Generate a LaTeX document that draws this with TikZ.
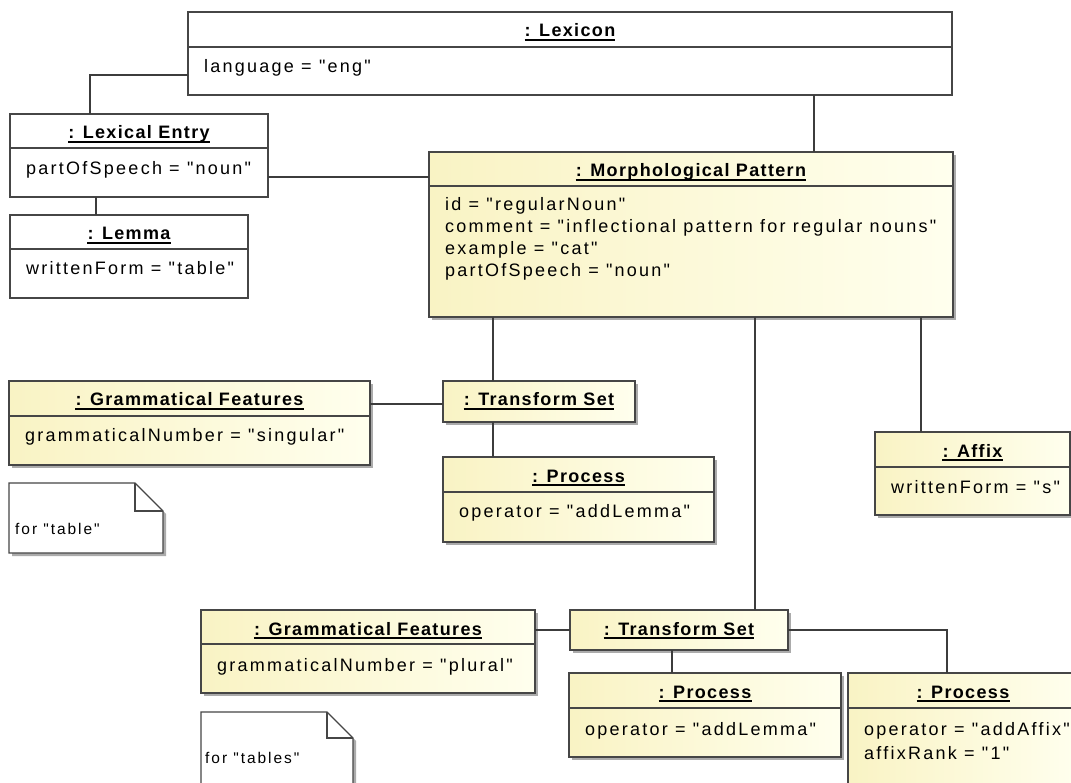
\documentclass[tikz,border=0pt]{standalone}
\usepackage{fontspec}
\setmainfont{Liberation Sans}[Ligatures=TeXOff,LetterSpace=12.5,BoldFeatures={LetterSpace=7.5}]
\usetikzlibrary{shadows,calc}

\definecolor{edgegray}{RGB}{70,70,70}
\definecolor{wiregray}{RGB}{60,60,60}
\definecolor{ylwL}{RGB}{249,243,196}
\definecolor{ylwR}{RGB}{255,255,238}
\definecolor{shadegray}{RGB}{150,150,150}

\newcommand\bodysize{\fontsize{18}{22}\selectfont}

\tikzset{
  objbox/.style={draw=edgegray, line width=1.4pt, inner sep=0pt, outer sep=0pt, anchor=north west},
  plainobj/.style={objbox, fill=white},
  yellowobj/.style={objbox, left color=ylwL, right color=ylwR,
    drop shadow={shadow xshift=3pt, shadow yshift=-3pt, fill=shadegray, opacity=0.8}},
  notepath/.style={draw=edgegray, line width=1.4pt, fill=white, line join=miter},
  ttl/.style={anchor=base, inner sep=0pt, font=\bodysize\bfseries},
  attr/.style={anchor=base west, inner sep=0pt, xshift=16pt, font=\bodysize},
  notetext/.style={anchor=base west, inner sep=0pt, font=\fontsize{15.5}{18}\selectfont},
  divline/.style={draw=edgegray, line width=1.2pt},
  uline/.style={draw=black, line width=1.1pt},
  wire/.style={draw=wiregray, line width=1.2pt},
}

% object box with a name compartment and an attribute compartment
% #1 name, #2 style, #3 x1, #4 y1, #5 x2, #6 y2, #7 divider y, #8 title
\newcommand\objbox[8]{%
  \node[#2, minimum width=#5pt-#3pt, minimum height=#6pt-#4pt] (#1) at (#3,#4) {};
  \draw[divline] (#1.west |- 0,#7) -- (#1.east |- 0,#7);
  \node[ttl] (#1-title) at ([yshift=-25pt]#1.north) {#8};
  \draw[uline] ([yshift=-3pt]#1-title.base west) -- ([yshift=-3pt]#1-title.base east);
}
% object box with a name compartment only
% #1 name, #2 style, #3 x1, #4 y1, #5 x2, #6 y2, #7 title
\newcommand\namebox[7]{%
  \node[#2, minimum width=#5pt-#3pt, minimum height=#6pt-#4pt] (#1) at (#3,#4) {};
  \node[ttl] (#1-title) at ([yshift=-25pt]#1.north) {#7};
  \draw[uline] ([yshift=-3pt]#1-title.base west) -- ([yshift=-3pt]#1-title.base east);
}
% attribute line: #1 node name, #2 box, #3 baseline y, #4 text
\newcommand\attr[4]{\node[attr] (#1) at (#2.west |- 0,#3) {#4};}
% note with a folded corner: #1 x1, #2 y1, #3 x2, #4 y2, #5 fold
\newcommand\notebox[5]{%
  \fill[shadegray, opacity=0.8] (#1+3,#2+3) -- (#3-#5+3,#2+3) -- (#3+3,#2+#5+3) -- (#3+3,#4+3) -- (#1+3,#4+3) -- cycle;
  \draw[notepath] (#1,#2) -- (#3-#5,#2) -- (#3,#2+#5) -- (#3,#4) -- (#1,#4) -- cycle;
  \draw[notepath, fill=none] (#3-#5,#2) -- (#3-#5,#2+#5) -- (#3,#2+#5);
}

\begin{document}
\begin{tikzpicture}[x=1pt, y=-1pt, font=\bodysize]
\useasboundingbox (0,0) rectangle (1071,783);
\clip (0,0) rectangle (1071,783);
\fill[white] (0,0) rectangle (1071,783);

% white objects
\objbox{lexicon}{plainobj}{188}{12}{952}{95}{47}{: Lexicon}
\attr{lexicon-lang}{lexicon}{73}{language = "eng"}

\objbox{entry}{plainobj}{10}{114}{268}{197}{148}{: Lexical Entry}
\attr{entry-pos}{entry}{175}{partOfSpeech = "noun"}

\objbox{lemma}{plainobj}{10}{215}{248}{298}{249}{: Lemma}
\attr{lemma-wf}{lemma}{275}{writtenForm = "table"}

% morphological pattern
\objbox{morph}{yellowobj}{429}{152}{953}{317}{186}{: Morphological Pattern}
\attr{morph-id}{morph}{211}{id = "regularNoun"}
\attr{morph-comment}{morph}{233}{comment = "inflectional pattern for regular nouns"}
\attr{morph-ex}{morph}{255}{example = "cat"}
\attr{morph-pos}{morph}{277}{partOfSpeech = "noun"}

% singular branch
\objbox{gfsg}{yellowobj}{9}{381}{370}{465}{416}{: Grammatical Features}
\attr{gfsg-num}{gfsg}{441}{grammaticalNumber = "singular"}

\namebox{tssg}{yellowobj}{443}{381}{635}{422}{: Transform Set}

\objbox{procsg}{yellowobj}{443}{457}{714}{542}{492}{: Process}
\attr{procsg-op}{procsg}{517}{operator = "addLemma"}

\objbox{affix}{yellowobj}{875}{432}{1070}{515}{467}{: Affix}
\attr{affix-wf}{affix}{493}{writtenForm = "s"}

% plural branch
\objbox{gfpl}{yellowobj}{201}{610}{535}{693}{644}{: Grammatical Features}
\attr{gfpl-num}{gfpl}{671}{grammaticalNumber = "plural"}

\namebox{tspl}{yellowobj}{570}{610}{788}{650}{: Transform Set}

\objbox{procpl}{yellowobj}{569}{673}{841}{757}{708}{: Process}
\attr{procpl-op}{procpl}{735}{operator = "addLemma"}

\objbox{procaf}{yellowobj}{848}{673}{1078}{800}{708}{: Process}
\attr{procaf-op}{procaf}{735}{operator = "addAffix"}
\attr{procaf-rank}{procaf}{759}{affixRank = "1"}

% notes
\notebox{9}{483}{163}{553}{28}
\node[notetext] (note-sg) at (15,534) {for "table"};
\notebox{201}{712}{353}{800}{26}
\node[notetext] (note-pl) at (205,763) {for "tables"};

% links
\draw[wire] (lexicon.west |- 0,75) -| (entry.north -| 90,0);
\draw[wire] (lexicon.south -| 814,0) -- (morph.north -| 814,0);
\draw[wire] (entry.south -| 96,0) -- (lemma.north -| 96,0);
\draw[wire] (entry.east |- 0,177) -- (morph.west |- 0,177);
\draw[wire] (morph.south -| 493,0) -- (tssg.north -| 493,0);
\draw[wire] (morph.south -| 755,0) -- (tspl.north -| 755,0);
\draw[wire] (morph.south -| 921,0) -- (affix.north -| 921,0);
\draw[wire] (gfsg.east |- 0,404) -- (tssg.west |- 0,404);
\draw[wire] (tssg.south -| 493,0) -- (procsg.north -| 493,0);
\draw[wire] (gfpl.east |- 0,630) -- (tspl.west |- 0,630);
\draw[wire] (tspl.south -| 672,0) -- (procpl.north -| 672,0);
\draw[wire] (tspl.east |- 0,630) -| (procaf.north -| 947,0);
\end{tikzpicture}
\end{document}
